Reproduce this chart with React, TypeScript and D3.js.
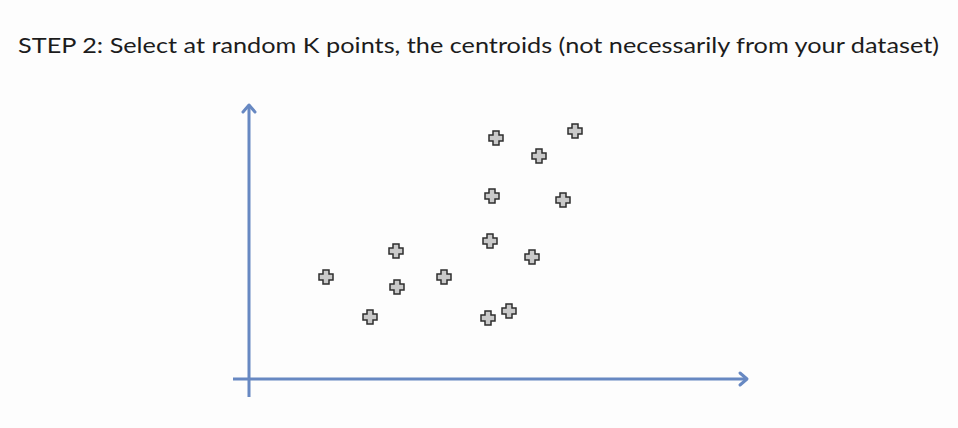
import * as d3 from 'd3';

const TITLE = 'STEP 2: Select at random K points, the centroids (not necessarily from your dataset)';

// data points (arbitrary units, 0-100 on both axes)
const pointX = [15.4, 24.2, 29.4, 29.6, 39.0, 49.4, 58.0, 65.2, 48.6, 62.8, 48.2, 56.6, 47.8, 52.0];
const pointY = [37.0, 22.5, 46.4, 33.3, 37.0, 87.3, 80.8, 89.9, 66.3, 64.9, 50.0, 44.2, 22.1, 24.6];

const W = 958;
const H = 428;
const AXIS_COLOR = '#6788c2';

export default function App() {
  const x = d3.scaleLinear().domain([0, 100]).range([249, 749]);
  const y = d3.scaleLinear().domain([0, 100]).range([379, 103]);

  const a = 3;
  const L = 7;
  const cross = `M${-a},${-L}H${a}V${-a}H${L}V${a}H${a}V${L}H${-a}V${a}H${-L}V${-a}H${-a}Z`;

  const x0 = x(0);
  const y0 = y(0);
  const xEnd = x(100);
  const yEnd = y(100);

  return (
    <svg width={W} height={H} style={{ position: 'absolute', left: 0, top: 0, background: '#fdfdfd' }}>
      <text
        x={18}
        y={53}
        textLength={921}
        lengthAdjust="spacingAndGlyphs"
        style={{ fontFamily: 'Lato, "Open Sans", sans-serif', fontSize: '22px', fill: '#1c1c1c' }}
      >
        {TITLE}
      </text>

      {/* axes */}
      <line x1={x0} x2={x0} y1={y0 + 18} y2={yEnd + 2} stroke={AXIS_COLOR} strokeWidth={3} />
      <line x1={x0 - 16} x2={xEnd - 2} y1={y0} y2={y0} stroke={AXIS_COLOR} strokeWidth={3} />
      <polyline
        points={`${x0 - 6},${yEnd + 9} ${x0},${yEnd + 2} ${x0 + 6},${yEnd + 9}`}
        fill="none"
        stroke={AXIS_COLOR}
        strokeWidth={3}
        strokeLinecap="round"
        strokeLinejoin="round"
      />
      <polyline
        points={`${xEnd - 9},${y0 - 6} ${xEnd - 2},${y0} ${xEnd - 9},${y0 + 6}`}
        fill="none"
        stroke={AXIS_COLOR}
        strokeWidth={3}
        strokeLinecap="round"
        strokeLinejoin="round"
      />

      {/* points */}
      {pointX.map((px, i) => (
        <path
          key={i}
          d={cross}
          transform={`translate(${x(px)},${y(pointY[i])})`}
          fill="#c9c9c9"
          stroke="#2e2e2e"
          strokeWidth={1.5}
        />
      ))}
    </svg>
  );
}
